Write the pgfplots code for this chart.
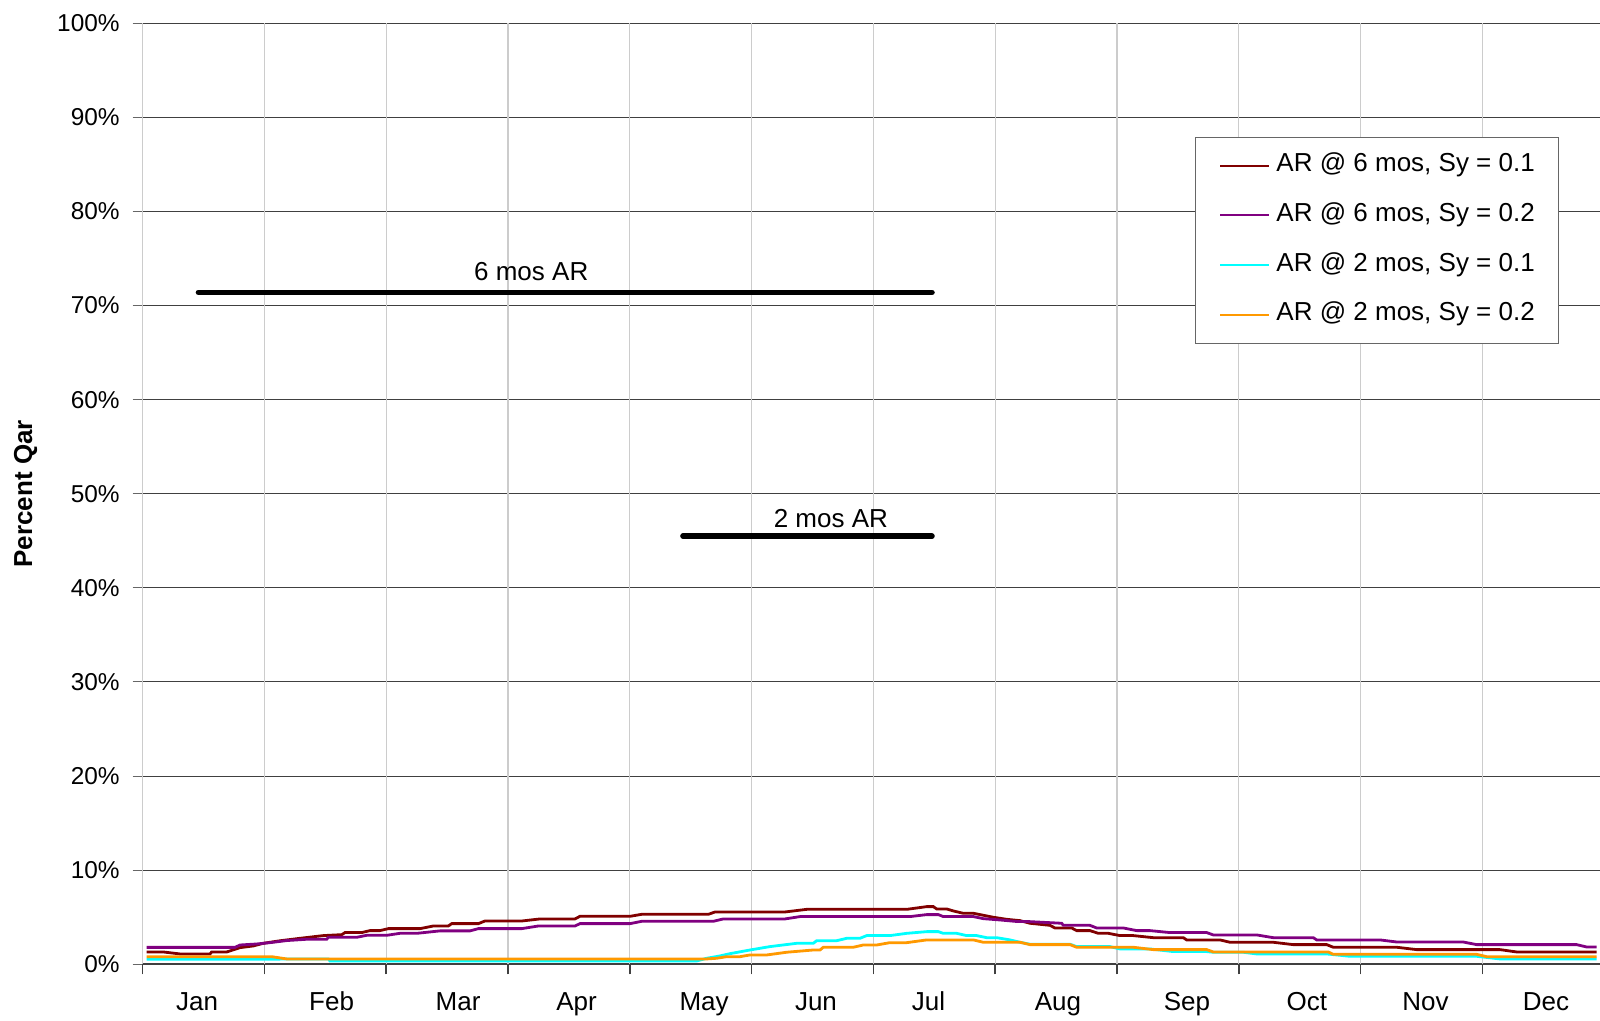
\documentclass[border=0pt]{standalone}
\usepackage{fontspec}
\setmainfont{Liberation Sans}
\usepackage{pgfplots}
\pgfplotsset{compat=1.18}

\definecolor{arMaroon}{HTML}{800000}
\definecolor{arPurple}{HTML}{800080}
\definecolor{arCyan}{HTML}{00FFFF}
\definecolor{arOrange}{HTML}{FF9900}

\newcommand{\lblfont}{\fontsize{13}{15}\selectfont}

\begin{document}
\begin{tikzpicture}
\begin{axis}[
  at={(0pt,0pt)}, anchor=south west,
  scale only axis, width=728.65pt, height=470.5pt,
  xmin=0, xmax=11.965, ymin=0, ymax=100,
  axis lines=left,
  axis line style={-},
  x axis line style={black!75, line width=1pt},
  y axis line style={black, line width=0.6pt},
  tick align=outside,
  major tick length=5pt,
  % month names sit between the month boundaries
  xtick={0.446,1.551,2.589,3.562,4.609,5.528,6.452,7.515,8.574,9.559,10.532,11.522},
  xticklabels={Jan,Feb,Mar,Apr,May,Jun,Jul,Aug,Sep,Oct,Nov,Dec},
  xticklabel style={font=\lblfont, yshift=-5pt, text height=9.5pt, text depth=2.5pt},
  x tick style={draw=none},
  % month boundaries: grid lines and tick marks, no labels
  extra x ticks={0,1,...,11},
  extra x tick labels={,,,,,,,,,,,},
  extra x tick style={xmajorgrids=true,
    x tick style={draw=black!75, line width=0.8pt}},
  ymajorgrids,
  x grid style={black!20, line width=0.6pt},
  y grid style={black!75, line width=0.5pt},
  y tick style={black!60, line width=0.5pt},
  ytick={0,10,...,100},
  yticklabels={0\%,10\%,20\%,30\%,40\%,50\%,60\%,70\%,80\%,90\%,100\%},
  yticklabel style={font=\fontsize{12.2}{14}\selectfont, xshift=-3pt},
  ylabel={Percent Qar},
  ylabel style={at={(axis description cs:-0.0804,0.5)}, anchor=center,
    font=\bfseries\lblfont},
  legend style={at={(0.722,0.8795)}, anchor=north west,
    draw=black!60, line width=0.6pt, fill=white,
    font=\lblfont, inner xsep=12pt, inner ysep=8.2pt,
    row sep=12.85pt, column sep=3pt,
    nodes={inner sep=0pt, text height=9pt, text depth=3pt}},
  legend cell align=left,
  legend image code/.code={\draw[#1, line width=1pt] (0pt,0pt) -- (24.5pt,0pt);},
  every axis plot/.append style={line width=1.4pt, mark=none},
]

% AR @ 6 mos, Sy = 0.1
\addplot[arMaroon] coordinates {
(0.033,1.31) (0.169,1.31) (0.306,1.10) (0.553,1.10) (0.566,1.31) (0.69,1.31)
(0.799,1.77) (0.908,1.95) (0.99,2.23) (1.127,2.50) (1.291,2.76) (1.483,3.05)
(1.634,3.15) (1.661,3.37) (1.798,3.37) (1.866,3.58) (1.948,3.58) (2.017,3.79)
(2.277,3.79) (2.386,4.07) (2.509,4.07) (2.537,4.32) (2.756,4.32) (2.81,4.60)
(3.112,4.60) (3.262,4.82) (3.549,4.82) (3.59,5.10) (4.001,5.10) (4.097,5.31)
(4.644,5.31) (4.699,5.56) (5.273,5.56) (5.452,5.84) (6.273,5.84) (6.382,6.03)
(6.437,6.13) (6.491,6.13) (6.519,5.88) (6.601,5.88) (6.655,5.67) (6.737,5.42)
(6.82,5.42) (6.902,5.21) (6.984,5.00) (7.093,4.78) (7.203,4.64) (7.285,4.36)
(7.449,4.14) (7.49,3.86) (7.627,3.86) (7.668,3.58) (7.777,3.58) (7.846,3.29)
(7.928,3.29) (8.024,3.05) (8.133,3.05) (8.297,2.83) (8.544,2.83) (8.571,2.59)
(8.845,2.59) (8.927,2.34) (9.282,2.34) (9.446,2.09) (9.721,2.09) (9.775,1.81)
(10.296,1.81) (10.46,1.56) (11.143,1.56) (11.281,1.31) (11.938,1.31)
};
\addlegendentry{AR @ 6 mos, Sy = 0.1}

% AR @ 6 mos, Sy = 0.2
\addplot[arPurple] coordinates {
(0.033,1.80) (0.758,1.80) (0.799,2.05) (0.936,2.16) (1.045,2.30) (1.182,2.52)
(1.346,2.66) (1.511,2.66) (1.524,2.87) (1.757,2.87) (1.839,3.08) (2.003,3.08)
(2.112,3.29) (2.25,3.29) (2.441,3.55) (2.687,3.55) (2.756,3.79) (3.112,3.79)
(3.248,4.07) (3.549,4.07) (3.59,4.32) (4.001,4.32) (4.097,4.57) (4.685,4.57)
(4.767,4.82) (5.273,4.82) (5.397,5.07) (6.3,5.07) (6.437,5.28) (6.532,5.28)
(6.573,5.07) (6.82,5.07) (6.902,4.85) (7.039,4.71) (7.176,4.55) (7.258,4.55)
(7.545,4.36) (7.559,4.14) (7.777,4.14) (7.832,3.86) (8.051,3.86) (8.161,3.58)
(8.27,3.58) (8.434,3.37) (8.736,3.37) (8.79,3.12) (9.146,3.12) (9.282,2.83)
(9.611,2.83) (9.639,2.59) (10.158,2.59) (10.296,2.37) (10.842,2.37) (10.952,2.09)
(11.773,2.09) (11.855,1.84) (11.938,1.84)
};
\addlegendentry{AR @ 6 mos, Sy = 0.2}

% AR @ 2 mos, Sy = 0.1
\addplot[arCyan] coordinates {
(0.033,0.53) (1.059,0.53) (1.182,0.57) (1.524,0.57) (1.538,0.35) (4.548,0.35)
(4.631,0.64) (4.74,0.89) (4.822,1.13) (4.986,1.52) (5.15,1.88) (5.369,2.23)
(5.506,2.23) (5.534,2.51) (5.698,2.51) (5.78,2.76) (5.889,2.76) (5.944,3.05)
(6.135,3.05) (6.273,3.29) (6.437,3.47) (6.532,3.47) (6.573,3.29) (6.683,3.29)
(6.765,3.05) (6.847,3.05) (6.929,2.83) (7.011,2.83) (7.121,2.59) (7.203,2.34)
(7.285,2.13) (7.614,2.13) (7.668,1.88) (7.942,1.88) (8.024,1.63) (8.27,1.63)
(8.462,1.35) (8.736,1.35) (8.79,1.28) (9.036,1.28) (9.146,1.10) (9.721,1.10)
(9.912,0.85) (10.952,0.85) (11.143,0.57) (11.938,0.57)
};
\addlegendentry{AR @ 2 mos, Sy = 0.1}

% AR @ 2 mos, Sy = 0.2
\addplot[arOrange] coordinates {
(0.033,0.81) (1.059,0.81) (1.182,0.57) (4.631,0.57) (4.713,0.64) (4.795,0.81)
(4.904,0.81) (4.986,0.99) (5.123,0.99) (5.287,1.28) (5.506,1.52) (5.561,1.52)
(5.588,1.81) (5.834,1.81) (5.916,2.05) (6.026,2.05) (6.135,2.30) (6.273,2.30)
(6.437,2.59) (6.82,2.59) (6.902,2.34) (7.203,2.34) (7.285,2.09) (7.614,2.09)
(7.668,1.81) (8.133,1.81) (8.297,1.56) (8.736,1.56) (8.79,1.31) (9.734,1.31)
(9.775,1.06) (10.952,1.06) (11.034,0.81) (11.938,0.81)
};
\addlegendentry{AR @ 2 mos, Sy = 0.2}

% averaging-period bars
\addplot[black, line width=2.8pt, line cap=round, forget plot] coordinates {(0.458,71.4) (6.48,71.4)};
\addplot[black, line width=2.8pt, line cap=round, forget plot] coordinates {(4.436,45.5) (6.48,45.5)};
\node[font=\lblfont] at (axis cs:3.19,73.6) {6 mos AR};
\node[font=\lblfont] at (axis cs:5.65,47.4) {2 mos AR};

\end{axis}
\pgfresetboundingbox
\useasboundingbox (-71.35pt,-28.35pt) rectangle (728.65pt,482.15pt);
\end{tikzpicture}
\end{document}
